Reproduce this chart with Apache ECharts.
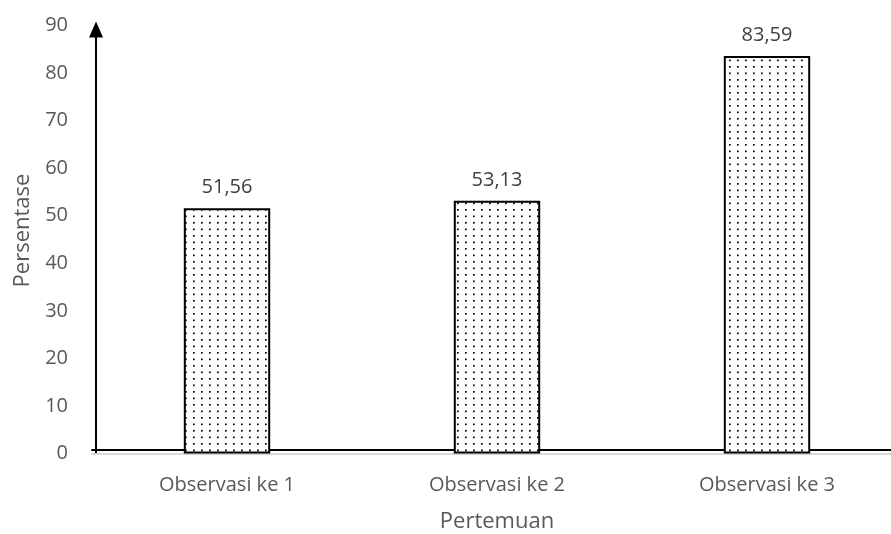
<!DOCTYPE html>
<html>
<head>
<meta charset="utf-8">
<script src="https://cdn.jsdelivr.net/npm/echarts@6/dist/echarts.min.js"></script>
<style>
  html, body { margin: 0; padding: 0; background: #ffffff; }
  #chart { width: 891px; height: 534px; }
</style>
</head>
<body>
<div id="chart"></div>
<script>
// Persentase per pertemuan
const categories = ['Observasi ke 1', 'Observasi ke 2', 'Observasi ke 3'];
const values = [51.56, 53.13, 83.59];
const yTicks = [0, 10, 20, 30, 40, 50, 60, 70, 80, 90];

// Dotted fill used inside the bars
function dotPattern() {
  const c = document.createElement('canvas');
  c.width = 16;
  c.height = 13;
  const ctx = c.getContext('2d');
  ctx.fillStyle = '#ffffff';
  ctx.fillRect(0, 0, c.width, c.height);
  ctx.fillStyle = '#000000';
  const dots = [[1, 1], [9, 1], [1, 7.5], [9, 7.5]];
  dots.forEach(d => ctx.fillRect(d[0], d[1], 1.7, 1.7));
  return c;
}

const textColor = '#595959';
const fontFamily = '"Open Sans", sans-serif';

const chart = echarts.init(document.getElementById('chart'), null, { renderer: 'canvas' });
chart.setOption({
  animation: false,
  backgroundColor: '#ffffff',
  grid: {
    left: 92, right: -11, top: 25.5, bottom: 80.5,
    containLabel: false,
    outerBoundsMode: 'none'
  },
  xAxis: [
    {
      type: 'category',
      data: categories,
      name: 'Pertemuan',
      nameLocation: 'middle',
      nameGap: 57,
      nameTextStyle: { color: textColor, fontSize: 22, fontFamily: fontFamily },
      axisLine: { show: true, lineStyle: { color: '#d9d9d9', width: 2 } },
      axisTick: { show: false },
      axisLabel: { color: textColor, fontSize: 20, fontFamily: fontFamily, margin: 22 },
      splitLine: { show: false }
    },
    {
      type: 'category',
      data: categories,
      position: 'bottom',
      offset: -3.5,
      axisLine: { show: true, lineStyle: { color: '#000000', width: 2 } },
      axisTick: { show: false },
      axisLabel: { show: false },
      splitLine: { show: false }
    }
  ],
  yAxis: {
    type: 'value',
    min: yTicks[0],
    max: yTicks[yTicks.length - 1],
    interval: 10,
    offset: -4,
    name: 'Persentase',
    nameLocation: 'middle',
    nameGap: 62,
    nameRotate: 90,
    nameTextStyle: { color: textColor, fontSize: 22, fontFamily: fontFamily, padding: [0, 0, 0, 18] },
    axisLine: {
      show: true,
      symbol: ['none', 'triangle'],
      symbolSize: [14, 16],
      symbolOffset: [0, -4],
      lineStyle: { color: '#000000', width: 2 }
    },
    axisTick: { show: false },
    axisLabel: { color: textColor, fontSize: 20, fontFamily: fontFamily, margin: 28 },
    splitLine: { show: false }
  },
  series: [
    {
      type: 'bar',
      data: values,
      barWidth: '32%',
      itemStyle: {
        color: { image: dotPattern(), repeat: 'repeat' },
        borderColor: '#000000',
        borderWidth: 2
      },
      label: {
        show: true,
        position: 'top',
        distance: 11,
        color: '#404040',
        fontSize: 20,
        fontFamily: fontFamily,
        formatter: p => p.value.toFixed(2).replace('.', ',')
      }
    }
  ]
});
</script>
</body>
</html>
